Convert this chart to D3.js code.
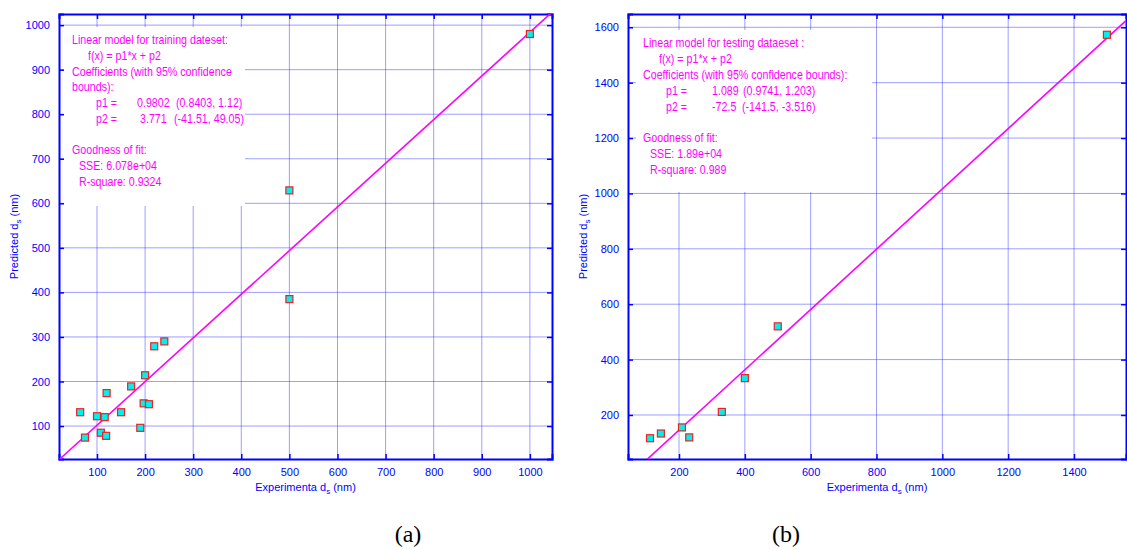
<!DOCTYPE html>
<html>
<head>
<meta charset="utf-8">
<script src="https://cdn.jsdelivr.net/npm/d3@7"></script>
<style>
    body { margin: 0; background: #fff; }
    text { font-family: "Liberation Sans", Arial, sans-serif; }
</style>
</head>
<body>
<script>
// data
var expA = [65, 75, 100, 108, 116, 119, 120, 150, 171, 190, 197, 200, 208, 219, 240, 500, 500, 1000];
var predA = [131, 74, 122, 85, 120, 78, 174, 131, 189, 96, 151, 214, 149, 279, 290, 385, 629, 980];
var expB = [112, 145, 209, 231, 330, 400, 500, 1500];
var predB = [116, 133, 155, 119, 211, 333, 520, 1573];

var fitA = [0.9802, 3.771]; // p1, p2
var fitB = [1.089, -72.5];

var xTicksA = [100, 200, 300, 400, 500, 600, 700, 800, 900, 1000];
var yTicksA = [100, 200, 300, 400, 500, 600, 700, 800, 900, 1000];
var xTicksB = [200, 400, 600, 800, 1000, 1200, 1400];
var yTicksB = [200, 400, 600, 800, 1000, 1200, 1400, 1600];

// annotation lines: [text, indent]
var notesA = [
    ['Linear model for training dateset:', 72],
    ['f(x) = p1*x + p2', 88],
    ['Coefficients (with 95% confidence', 72],
    ['bounds):', 72],
    [['p1 =', 96], ['0.9802', 137], ['(0.8403, 1.12)', 176]],
    [['p2 =', 96], ['3.771', 140], ['(-41.51, 49.05)', 174]],
    null,
    ['Goodness of fit:', 72],
    ['SSE: 6.078e+04', 79],
    ['R-square: 0.9324', 79]
];
var notesB = [
    ['Linear model for testing dataeset :', 643],
    ['f(x) = p1*x + p2', 659],
    ['Coefficients (with 95% confidence bounds):', 643],
    [['p1 =', 666], ['1.089', 712], ['(0.9741, 1.203)', 743]],
    [['p2 =', 666], ['-72.5', 712], ['(-141.5, -3.516)', 742]],
    null,
    ['Goodness of fit:', 643],
    ['SSE: 1.89e+04', 650],
    ['R-square: 0.989', 650]
];

window.onload = function () {
    var w = 1127,
        h = 550;

    var svg = d3.select('body')
        .append('svg')
        .attr('width', w)
        .attr('height', h);

    var blue = '#0000ff',
        gridColor = 'rgba(40,40,255,0.45)',
        magenta = '#ff00ff',
        fmt = d3.format('d');

    function drawPanel(p) {
        var x = d3.scaleLinear().domain(p.xDomain).range([p.left, p.right]);
        var y = d3.scaleLinear().domain(p.yDomain).range([p.bottom, p.top]);
        var g = svg.append('g').attr('class', 'panel');

        // grid
        g.selectAll('.vgrid')
            .data(p.xTicks)
            .enter()
            .append('line')
            .attr('x1', function (d) { return x(d); })
            .attr('x2', function (d) { return x(d); })
            .attr('y1', p.top)
            .attr('y2', p.bottom)
            .style('stroke', gridColor)
            .style('stroke-width', 1);
        g.selectAll('.hgrid')
            .data(p.yTicks)
            .enter()
            .append('line')
            .attr('x1', p.left)
            .attr('x2', p.right)
            .attr('y1', function (d) { return y(d); })
            .attr('y2', function (d) { return y(d); })
            .style('stroke', gridColor)
            .style('stroke-width', 1);

        // white box behind the fit notes
        g.append('rect')
            .attr('x', p.box[0])
            .attr('y', p.box[1])
            .attr('width', p.box[2] - p.box[0])
            .attr('height', p.box[3] - p.box[1])
            .style('fill', '#fff');

        // axes: bottom/left with labels, top/right just ticks (all inward)
        var tickLen = 5;
        g.append('g')
            .attr('transform', 'translate(0,' + p.bottom + ')')
            .call(d3.axisBottom(x).tickValues(p.xTicks).tickSize(-tickLen).tickPadding(9).tickFormat(fmt))
            .call(styleAxis);
        g.append('g')
            .attr('transform', 'translate(0,' + p.top + ')')
            .call(d3.axisTop(x).tickValues(p.xTicks).tickSize(-tickLen).tickFormat(''))
            .call(styleAxis);
        g.append('g')
            .attr('transform', 'translate(' + p.left + ',0)')
            .call(d3.axisLeft(y).tickValues(p.yTicks).tickSize(-tickLen).tickPadding(9).tickFormat(fmt))
            .call(styleAxis);
        g.append('g')
            .attr('transform', 'translate(' + p.right + ',0)')
            .call(d3.axisRight(y).tickValues(p.yTicks).tickSize(-tickLen).tickFormat(''))
            .call(styleAxis);

        // fit line, clipped to the plot box
        var clipId = 'clip' + p.name;
        svg.append('clipPath')
            .attr('id', clipId)
            .append('rect')
            .attr('x', p.left)
            .attr('y', p.top)
            .attr('width', p.right - p.left)
            .attr('height', p.bottom - p.top);
        var xs = p.xDomain;
        g.append('line')
            .attr('clip-path', 'url(#' + clipId + ')')
            .attr('x1', x(xs[0]))
            .attr('y1', y(p.fit[0] * xs[0] + p.fit[1]))
            .attr('x2', x(xs[1]))
            .attr('y2', y(p.fit[0] * xs[1] + p.fit[1]))
            .style('stroke', magenta)
            .style('stroke-width', 1.6);

        // markers
        var s = 7;
        g.selectAll('.pt')
            .data(p.xs)
            .enter()
            .append('rect')
            .attr('class', 'pt')
            .attr('x', function (d) { return x(d) - s / 2; })
            .attr('y', function (d, i) { return y(p.ys[i]) - s / 2; })
            .attr('width', s)
            .attr('height', s)
            .style('fill', '#00f0f0')
            .style('stroke', '#f02020')
            .style('stroke-width', 1.2);

        // axis titles
        var xt = g.append('text')
            .attr('x', (p.left + p.right) / 2)
            .attr('y', p.bottom + 32)
            .attr('text-anchor', 'middle')
            .style('font-size', '11px')
            .style('fill', blue);
        xt.append('tspan').text('Experimenta d');
        xt.append('tspan').attr('dy', 3).style('font-size', '8px').text('s');
        xt.append('tspan').attr('dy', -3).text(' (nm)');

        var yt = g.append('text')
            .attr('transform', 'translate(' + (p.left - 41) + ',' + ((p.top + p.bottom) / 2) + ') rotate(-90)')
            .attr('text-anchor', 'middle')
            .style('font-size', '11px')
            .style('fill', blue);
        yt.append('tspan').text('Predicted d');
        yt.append('tspan').attr('dy', 3).style('font-size', '8px').text('s');
        yt.append('tspan').attr('dy', -3).text(' (nm)');

        // fit notes (narrow text like the original)
        p.notes.forEach(function (line, i) {
            if (!line) return;
            var by = p.noteY + i * p.noteStep;
            var parts = Array.isArray(line[0]) ? line : [line];
            parts.forEach(function (part) {
                g.append('text')
                    .attr('transform', 'translate(' + part[1] + ',' + by + ') scale(0.89,1)')
                    .style('font-size', '12px')
                    .style('fill', magenta)
                    .text(part[0]);
            });
        });

        // caption
        svg.append('text')
            .attr('x', p.caption)
            .attr('y', 542)
            .attr('text-anchor', 'middle')
            .style('font-family', '"Liberation Serif", "Times New Roman", serif')
            .style('font-size', '24px')
            .style('fill', '#000')
            .text('(' + p.name + ')');
    }

    function styleAxis(sel) {
        sel.select('.domain').style('stroke', blue).style('stroke-width', 2);
        sel.selectAll('.tick line').style('stroke', blue).style('stroke-width', 1.5);
        sel.selectAll('.tick text')
            .style('fill', blue)
            .style('font-size', '11px')
            .style('font-family', '"Liberation Sans", Arial, sans-serif');
    }

    drawPanel({
        name: 'a',
        left: 59, right: 552, top: 14, bottom: 459,
        xDomain: [21, 1046], yDomain: [26, 1025],
        xTicks: xTicksA, yTicks: yTicksA,
        xs: expA, ys: predA, fit: fitA,
        box: [64, 27, 245, 206],
        notes: notesA, noteY: 44, noteStep: 15.75,
        caption: 408
    });

    drawPanel({
        name: 'b',
        left: 628, right: 1126, top: 14, bottom: 459,
        xDomain: [45, 1558], yDomain: [41, 1648],
        xTicks: xTicksB, yTicks: yTicksB,
        xs: expB, ys: predB, fit: fitB,
        box: [636, 30, 872, 192],
        notes: notesB, noteY: 47, noteStep: 15.9,
        caption: 786
    });
};
</script>
</body>
</html>
